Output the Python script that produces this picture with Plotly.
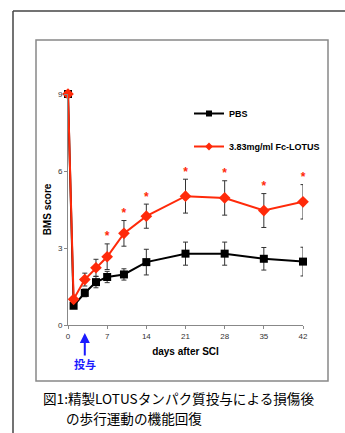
import plotly.graph_objects as go

days = [0, 1, 3, 5, 7, 10, 14, 21, 28, 35, 42]
pbs = [9, 0.75, 1.25, 1.67, 1.87, 1.97, 2.45, 2.78, 2.78, 2.58, 2.47]
pbs_err = [0, 0.1, 0.15, 0.22, 0.22, 0.22, 0.5, 0.45, 0.45, 0.44, 0.56]
lotus = [9, 1.0, 1.77, 2.23, 2.66, 3.57, 4.24, 5.02, 4.95, 4.46, 4.8]
lotus_err = [0, 0, 0.25, 0.33, 0.5, 0.5, 0.47, 0.66, 0.67, 0.66, 0.67]
sig_days = [7, 10, 14, 21, 28, 35, 42]
x_ticks = [0, 7, 14, 21, 28, 35, 42]
y_ticks = [0, 3, 6, 9]
caption_lines = ["図1:精製LOTUSタンパク質投与による損傷後", "の歩行運動の機能回復"]

RED = "#ff2a0a"
L, R, T, B = 68, 303, 94, 325
W, H = 345, 433
STAR_GAP = 0.25  # gap between error-bar top and the significance star (data units)


def px(x):
    return (x - L) / (R - L)


def py(y):
    return (B - y) / (B - T)


fig = go.Figure()
fig.add_trace(go.Scatter(
    x=days, y=pbs, mode="lines+markers", name="PBS",
    line=dict(color="black", width=2),
    marker=dict(symbol="square", size=8, color="black"),
    error_y=dict(type="data", array=pbs_err, color="#333", thickness=1, width=2.5),
    showlegend=False, cliponaxis=False,
))
fig.add_trace(go.Scatter(
    x=days, y=lotus, mode="lines+markers", name="3.83mg/ml Fc-LOTUS",
    line=dict(color=RED, width=2),
    marker=dict(symbol="diamond", size=9, color=RED),
    error_y=dict(type="data", array=lotus_err, color="#333", thickness=1, width=2.5),
    showlegend=False, cliponaxis=False,
))
sig_y = [lotus[days.index(d)] + lotus_err[days.index(d)] + STAR_GAP for d in sig_days]
fig.add_trace(go.Scatter(
    x=sig_days, y=sig_y, mode="text", text=["*"] * len(sig_days),
    textposition="middle center", textfont=dict(color=RED, size=12, family="Liberation Sans", weight="bold"),
    showlegend=False, cliponaxis=False, hoverinfo="skip",
))
# legend entries (smaller markers, as in the reference legend)
fig.add_trace(go.Scatter(
    x=[None], y=[None], mode="lines+markers", name="PBS",
    line=dict(color="black", width=2), marker=dict(symbol="square", size=6, color="black"),
    legendgroup="a",
))
fig.add_trace(go.Scatter(
    x=[None], y=[None], mode="lines+markers", name="3.83mg/ml Fc-LOTUS",
    line=dict(color=RED, width=2), marker=dict(symbol="diamond", size=6, color=RED),
    legendgroup="b",
))

shapes = [
    dict(type="line", xref="paper", yref="paper", x0=px(13), x1=px(346), y0=py(11), y1=py(11),
         line=dict(color="#444", width=1.5)),
    dict(type="line", xref="paper", yref="paper", x0=px(13), x1=px(13), y0=py(11), y1=py(434),
         line=dict(color="#444", width=1.5)),
    dict(type="rect", xref="paper", yref="paper", x0=px(36), x1=px(328), y0=py(40), y1=py(381),
         line=dict(color="#888", width=1.5)),
]

annotations = [
    dict(xref="x", yref="paper", x=3, y=py(333), ax=0, ay=24, axref="pixel", ayref="pixel",
         showarrow=True, arrowhead=2, arrowsize=1, arrowwidth=2, arrowcolor="#1a1aff", text=""),
    dict(xref="x", yref="paper", x=3, y=py(364), text="<b>投与</b>", showarrow=False,
         font=dict(color="#1a1aff", size=11, family="Noto Sans CJK JP"), yanchor="middle"),
    dict(xref="paper", yref="paper", x=px(41), y=py(398), xanchor="left", yanchor="middle",
         text=caption_lines[0], showarrow=False,
         font=dict(color="black", size=13.6, family="Noto Sans CJK JP")),
    dict(xref="paper", yref="paper", x=px(64), y=py(418), xanchor="left", yanchor="middle",
         text=caption_lines[1], showarrow=False,
         font=dict(color="black", size=13.6, family="Noto Sans CJK JP")),
]

fig.update_layout(
    width=W, height=H,
    margin=dict(l=L, r=W - R, t=T, b=H - B),
    paper_bgcolor="white", plot_bgcolor="white",
    shapes=shapes, annotations=annotations,
    showlegend=True,
    legend=dict(x=px(189), y=py(99), xanchor="left", yanchor="top",
                font=dict(family="Liberation Sans", size=9, color="black", weight="bold"),
                tracegroupgap=14, bgcolor="rgba(0,0,0,0)", itemwidth=30),
    xaxis=dict(range=[0, 42], tickvals=x_ticks, ticks="outside", ticklen=3, tickcolor="#888",
               showline=True, linecolor="#888", linewidth=1, showgrid=False, zeroline=False,
               tickfont=dict(family="Liberation Sans", size=8, color="#333"),
               title=dict(text="days after SCI", standoff=8,
                          font=dict(family="Liberation Sans", size=10, color="black", weight="bold"))),
    yaxis=dict(range=[0, 9], tickvals=y_ticks, ticks="outside", ticklen=3, tickcolor="#888",
               showline=True, linecolor="#888", linewidth=1, showgrid=False, zeroline=False,
               tickfont=dict(family="Liberation Sans", size=8, color="#333"),
               title=dict(text="BMS score", standoff=4,
                          font=dict(family="Liberation Sans", size=10, color="black", weight="bold"))),
)

fig.write_html("out.html", config={"displayModeBar": False},
               post_script="document.body.style.margin='0px';")
